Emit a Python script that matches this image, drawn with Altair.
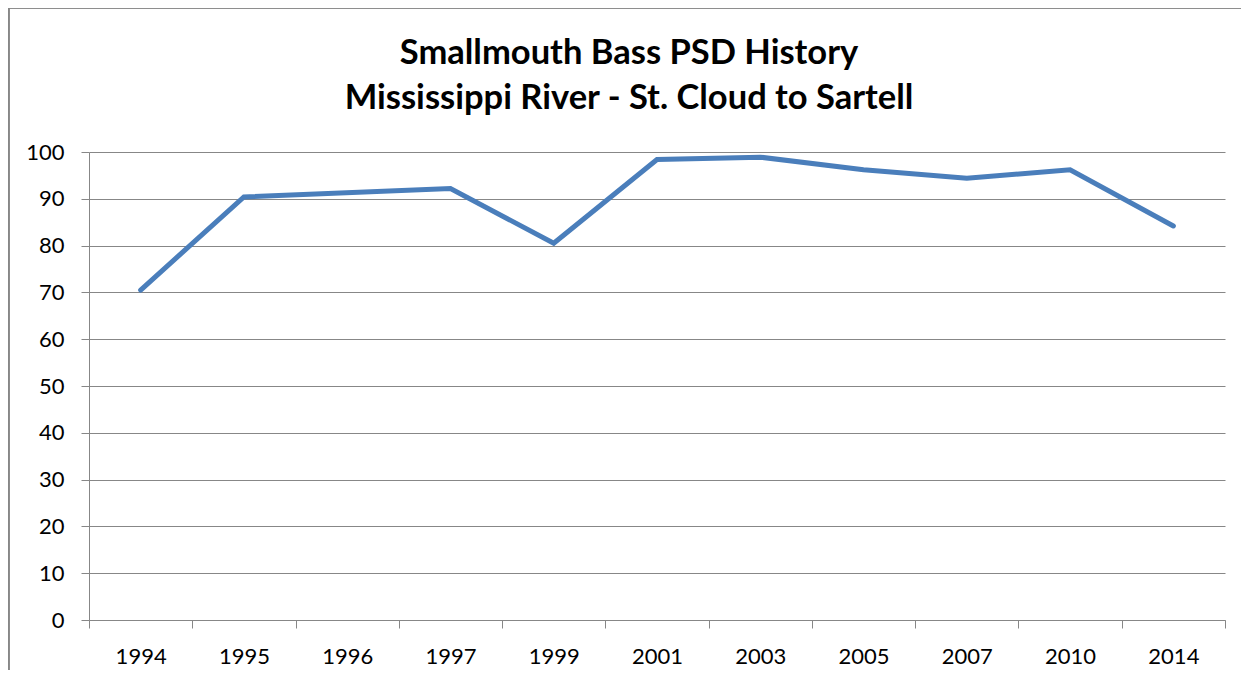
import altair as alt
import pandas as pd

# categories shown on the axis (1996 has no value: the line joins 1995 to 1997)
axis_years = ["1994", "1995", "1996", "1997", "1999", "2001", "2003", "2005", "2007", "2010", "2014"]
years = ["1994", "1995", "1997", "1999", "2001", "2003", "2005", "2007", "2010", "2014"]
psd = [70.5, 90.4, 92.2, 80.5, 98.4, 98.9, 96.2, 94.4, 96.2, 84.2]
y_ticks = [0, 10, 20, 30, 40, 50, 60, 70, 80, 90, 100]

df = pd.DataFrame({"year": years, "psd": psd})

W, H = 1136, 468
GRAY = "#878787"
FONT = "Lato"

line = alt.Chart(df).mark_line(color="#4a7ebb", strokeWidth=5, strokeCap="round").encode(
    x=alt.X("year:O", bandPosition=0.5,
            scale=alt.Scale(type="band", domain=axis_years, paddingInner=0, paddingOuter=0),
            axis=alt.Axis(title=None, labelAngle=0, tickBand="extent", tickSize=8,
                          tickColor=GRAY, domainColor=GRAY, labelPadding=18,
                          labelFontSize=22, labelFont=FONT, labelColor="#000000", grid=False)),
    y=alt.Y("psd:Q", scale=alt.Scale(domain=[0, 100], nice=False),
            axis=alt.Axis(title=None, values=y_ticks, tickSize=8, tickColor=GRAY,
                          domainColor=GRAY, gridColor=GRAY, grid=True, labelPadding=17,
                          labelFontSize=22, labelFont=FONT, labelColor="#000000")),
)

frame = alt.Chart(df).mark_rect(fill=None, stroke=GRAY, strokeWidth=1.5, clip=False).encode(
    x=alt.value(-80.5), y=alt.value(-144.5), x2=alt.value(W + 100), y2=alt.value(H + 100)
)

chart = alt.layer(frame, line).properties(
    width=W, height=H,
    title=alt.TitleParams(
        text=["Smallmouth Bass PSD History", "Mississippi River - St. Cloud to Sartell"],
        font=FONT, fontSize=34.5, fontWeight="bold", color="#000000",
        anchor="middle", frame="group", dx=-28, offset=-144, lineHeight=45,
        baseline="bottom",
    ),
    autosize=alt.AutoSizeParams(type="none"),
    padding={"left": 81, "top": 144, "right": 16, "bottom": 50},
).configure_view(stroke=None)

chart.save("out.html", embed_options={"renderer": "svg", "actions": False})
